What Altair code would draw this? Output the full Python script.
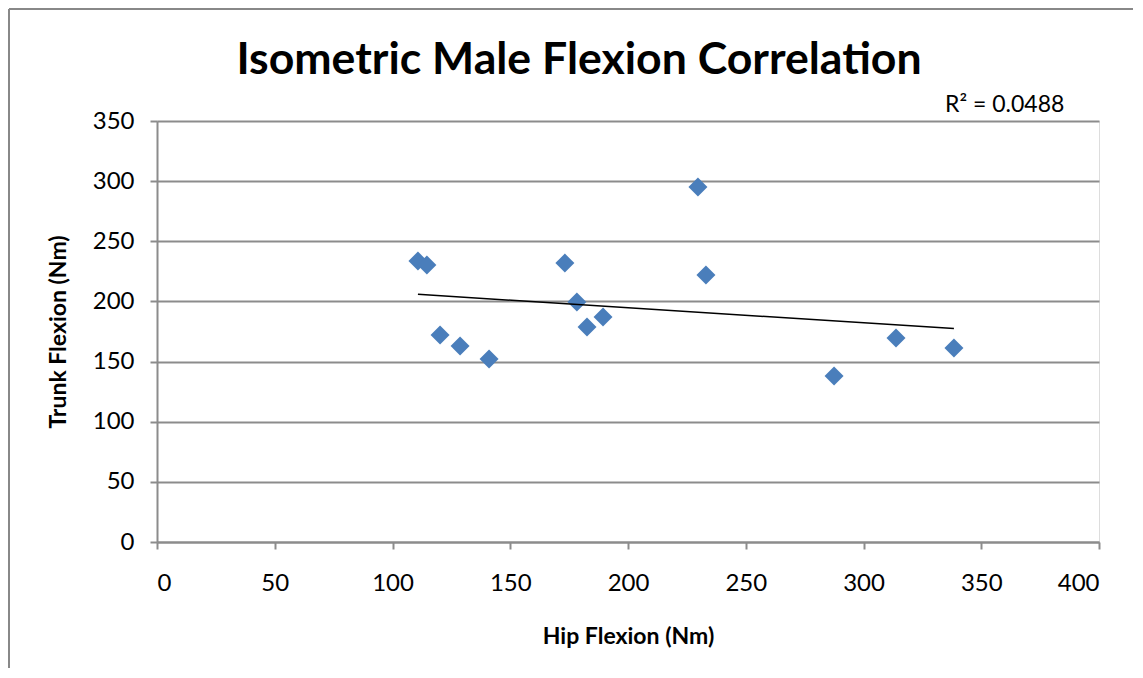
import altair as alt
import pandas as pd

hip_flexion = [110.8, 114.6, 120.2, 128.7, 141.0, 173.2, 178.3, 182.6, 189.4, 229.7, 233.1, 287.5, 313.8, 338.4]
trunk_flexion = [233.6, 230.3, 172.1, 162.9, 152.1, 231.9, 199.5, 178.7, 187.0, 295.1, 222.0, 138.0, 169.6, 161.3]
x_ticks = [0, 50, 100, 150, 200, 250, 300, 350, 400]
y_ticks = [0, 50, 100, 150, 200, 250, 300, 350]
r2_label = "R\u00b2 = 0.0488"
chart_title = "Isometric Male Flexion Correlation"

df = pd.DataFrame({"hip": hip_flexion, "trunk": trunk_flexion})

FONT = "Lato"
GRID = "#8c8c8c"

xenc = alt.X("hip:Q", scale=alt.Scale(domain=[0, 400], nice=False),
             axis=alt.Axis(values=x_ticks, title="Hip Flexion (Nm)", grid=False,
                           labelFontSize=24, titleFontSize=23, labelFont=FONT, titleFont=FONT,
                           titleFontWeight="bold", labelColor="black", titleColor="black",
                           domainColor=GRID, domainWidth=2, tickColor=GRID, tickWidth=2, tickSize=7,
                           labelPadding=22, titlePadding=30))
yenc = alt.Y("trunk:Q", scale=alt.Scale(domain=[0, 350], nice=False),
             axis=alt.Axis(values=y_ticks, title="Trunk Flexion (Nm)", grid=True, gridColor=GRID,
                           gridWidth=2, labelFontSize=24, titleFontSize=23, labelFont=FONT,
                           titleFont=FONT, titleFontWeight="bold", labelColor="black",
                           titleColor="black", domainColor=GRID, domainWidth=2, tickColor=GRID,
                           tickWidth=2, tickSize=7, labelPadding=16, titlePadding=22))

base = alt.Chart(df)

points = base.mark_point(shape="diamond", filled=True, size=360, color="#4A7EBB", opacity=1).encode(
    x=xenc, y=yenc)

trend = base.transform_regression("hip", "trunk").mark_line(color="black", strokeWidth=1.5).encode(
    x="hip:Q", y="trunk:Q")

r2 = alt.Chart(pd.DataFrame({"t": [r2_label]})).mark_text(
    font=FONT, fontSize=23, align="left", baseline="alphabetic", color="black").encode(
    text="t:N", x=alt.value(788), y=alt.value(-9))

title = alt.Chart(pd.DataFrame({"t": [chart_title]})).mark_text(
    font=FONT, fontSize=44.6, fontWeight="bold", align="center", baseline="alphabetic",
    color="black").encode(text="t:N", x=alt.value(422), y=alt.value(-47))

border = alt.Chart(pd.DataFrame({"a": [0]})).mark_rule(color="#888888", strokeWidth=2).encode(
    x=alt.value(-148), y=alt.value(-112), y2=alt.value(700))
border_top = alt.Chart(pd.DataFrame({"a": [0]})).mark_rule(color="#888888", strokeWidth=2).encode(
    x=alt.value(-148), x2=alt.value(976), y=alt.value(-112))

chart = alt.layer(points, trend, r2, title, border, border_top).properties(
    width=942, height=421,
    padding={"left": 149, "top": 113, "right": 36, "bottom": 126},
    autosize=alt.AutoSizeParams(type="none"),
).configure_view(stroke=None).configure(background="white")

chart.save("out.html", embed_options={"renderer": "svg", "actions": False})
